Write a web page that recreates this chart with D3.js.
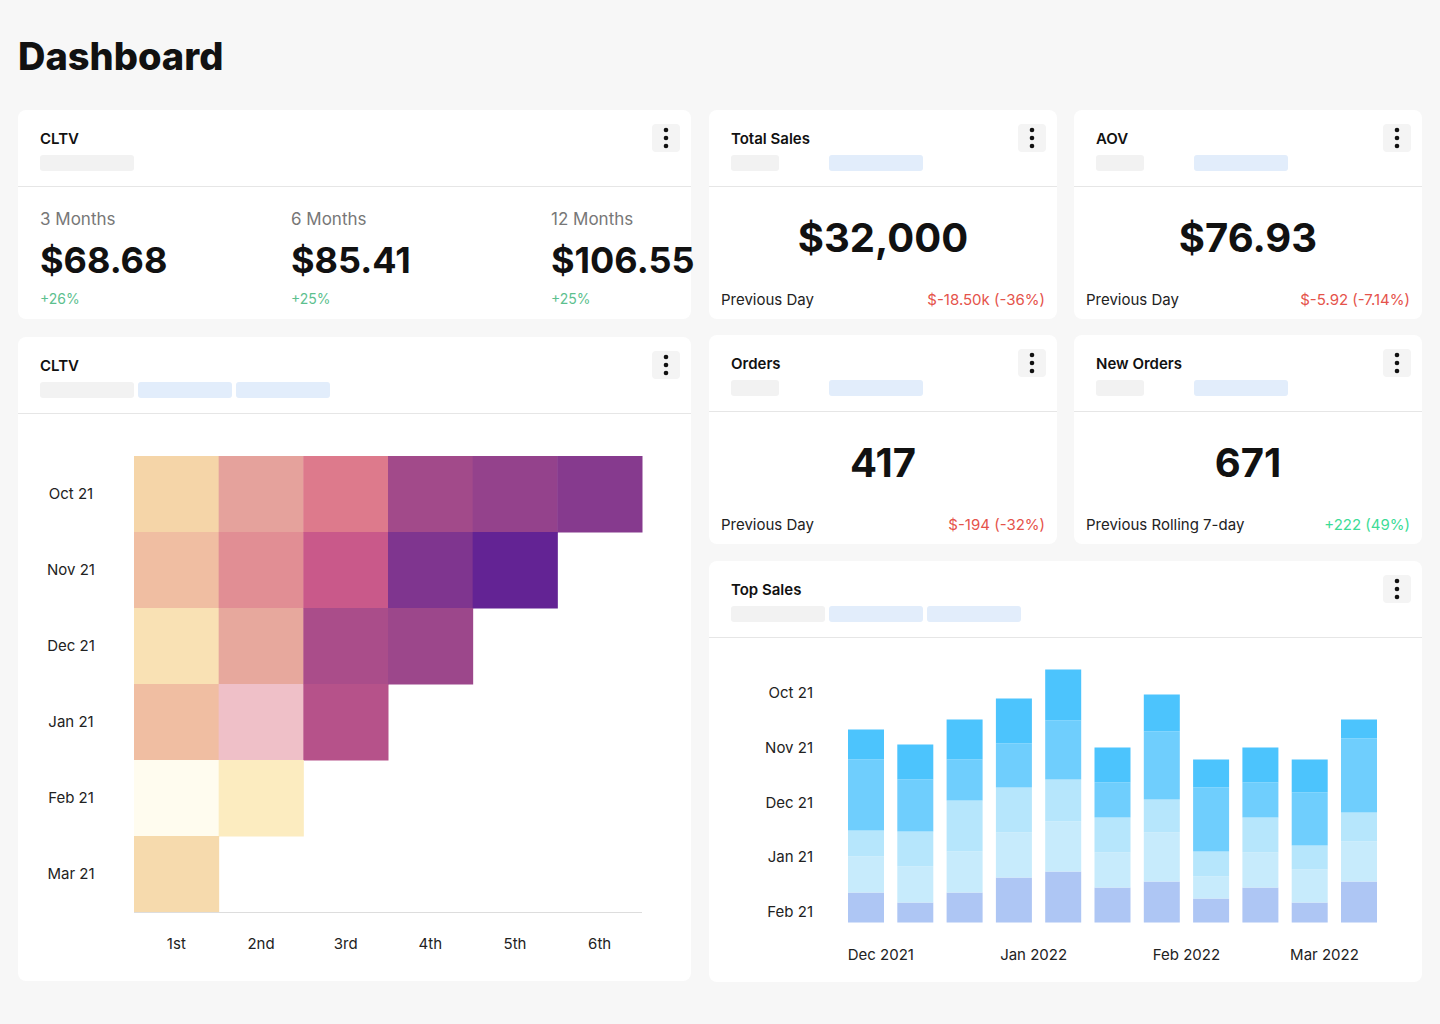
<!DOCTYPE html>
<html><head><meta charset="utf-8">
<script src="https://cdn.jsdelivr.net/npm/d3@7"></script>
<style>body{margin:0;background:#f7f7f7;font-family:Inter,"Noto Sans",sans-serif}</style>
</head><body><svg id="c" width="1440" height="1024"></svg>
<script>
// ---- data ----
const kpiLabels = ["3 Months","6 Months","12 Months"];
const kpiValues = ["$68.68","$85.41","$106.55"];
const kpiChanges = ["+26%","+25%","+25%"];
const heatRows = ["Oct 21","Nov 21","Dec 21","Jan 21","Feb 21","Mar 21"];
const heatCols = ["1st","2nd","3rd","4th","5th","6th"];
const heatValues = [
  [20,40,50,70,75,80],
  [30,45,60,82,90],
  [15,38,68,72],
  [30,35,65],
  [0,10],
  [18]
];
const barRowLabels = ["Oct 21","Nov 21","Dec 21","Jan 21","Feb 21"];
const barMonthTicks = ["2021-12-01","2022-01-01","2022-02-01","2022-03-01"];
const barDates = ["2021-11-28","2021-12-08","2021-12-18","2021-12-28","2022-01-07","2022-01-17","2022-01-27","2022-02-06","2022-02-16","2022-02-26","2022-03-08"];
const seg1 = [30,20,30,45,51,35,41,24,35,20,41];
const seg2 = [36,36,41,45,50,35,49,22,35,33,40];
const seg3 = [26,35,51,45,42,35,33,25,35,24,29];
const seg4 = [71,52,41,44,59,35,68,64,35,53,74];
const seg5 = [30,35,40,45,51,35,37,28,35,33,19];

const svg = d3.select("#c");
svg.append("text").attr("x",18).attr("y",70).attr("font-size",38).attr("font-weight",800).attr("fill","#111").text("Dashboard");

function card(x,y,w,h,title,pills){
  const g = svg.append("g").attr("transform",`translate(${x},${y})`);
  g.append("rect").attr("width",w).attr("height",h).attr("rx",8).attr("fill","#fff");
  g.append("text").attr("x",22).attr("y",34).attr("font-size",15).attr("font-weight",600).attr("fill","#111").text(title);
  pills.forEach((c,i)=>g.append("rect").attr("x",22+i*98).attr("y",45).attr("width",c==="g"&&pills.length<3&&i===0&&w<400?48:94).attr("height",16).attr("rx",3).attr("fill",c==="g"?"#f2f2f2":"#e2edfb"));
  g.append("line").attr("x1",0).attr("x2",w).attr("y1",76.5).attr("y2",76.5).attr("stroke","#e6e6e6");
  g.append("rect").attr("x",w-39).attr("y",14).attr("width",28).attr("height",28).attr("rx",4).attr("fill","#f4f4f4");
  [-8,0,8].forEach(d=>g.append("circle").attr("cx",w-25).attr("cy",28+d).attr("r",2.3).attr("fill","#111"));
  return g;
}
function smallPills(g){ }

// KPI CLTV
const k = card(18,110,673,209,"CLTV",["g"]);
const kx=[22,273,533];
kpiLabels.forEach((l,i)=>{
  k.append("text").attr("x",kx[i]).attr("y",115).attr("font-size",17).attr("fill","#777").text(l);
  k.append("text").attr("x",kx[i]).attr("y",163).attr("font-size",36).attr("font-weight",700).attr("fill","#111").text(kpiValues[i]);
  k.append("text").attr("x",kx[i]).attr("y",194).attr("font-size",14).attr("fill","#5cc08e").text(kpiChanges[i]);
});
function stat(x,y,title,val,lbl,chg,col){
  const g = card(x,y,348,209,title,["g","b"]);
  g.select("rect:nth-of-type(2)");
  g.append("text").attr("x",174).attr("y",142).attr("text-anchor","middle").attr("font-size",40).attr("font-weight",700).attr("fill","#111").text(val);
  g.append("text").attr("x",12).attr("y",195).attr("font-size",15).attr("fill","#222").text(lbl);
  g.append("text").attr("x",336).attr("y",195).attr("text-anchor","end").attr("font-size",15).attr("fill",col).text(chg);
}
stat(709,110,"Total Sales","$32,000","Previous Day","$-18.50k (-36%)","#e5534b");
stat(1074,110,"AOV","$76.93","Previous Day","$-5.92 (-7.14%)","#e5534b");
stat(709,335,"Orders","417","Previous Day","$-194 (-32%)","#e5534b");
stat(1074,335,"New Orders","671","Previous Rolling 7-day","+222 (49%)","#3ddc97");
// fix stat-card pill geometry
svg.selectAll("g").each(function(){});

// Heatmap
const h = card(18,337,673,644,"CLTV",["g","b","b"]);
const hx = d3.scaleBand().domain(heatCols).range([116,624]);
const hy = d3.scaleBand().domain(heatRows).range([119,575]);
const color = d3.scaleLinear().domain([0,10,20,30,40,50,60,70,80,90])
  .range(["#fffcef","#fcecc0","#f5d5a8","#f0bea2","#e5a29c","#dd7a8c","#c9598a","#a24a8a","#863a8e","#632394"]);
const pinkFix = d3.scaleLinear().domain([34,36]).range(["#efc0c8","#efc0c8"]);
heatValues.forEach((row,r)=>row.forEach((v,c)=>{
  h.append("rect").attr("x",hx(heatCols[c])).attr("y",hy(heatRows[r])).attr("width",hx.bandwidth()+0.5).attr("height",hy.bandwidth()+0.5)
   .attr("fill",v===35?pinkFix(v):color(v));
}));
h.append("line").attr("x1",116).attr("x2",624).attr("y1",575.5).attr("y2",575.5).attr("stroke","#ddd");
heatRows.forEach(r=>h.append("text").attr("x",53).attr("y",hy(r)+hy.bandwidth()/2+5).attr("text-anchor","middle").attr("font-size",15).attr("fill","#222").text(r));
heatCols.forEach(c=>h.append("text").attr("x",hx(c)+hx.bandwidth()/2).attr("y",612).attr("text-anchor","middle").attr("font-size",15).attr("fill","#222").text(c));

// Top Sales
const t = card(709,561,713,421,"Top Sales",["g","b","b"]);
const parse = d3.timeParse("%Y-%m-%d");
const bx = d3.scaleTime().domain([parse("2021-11-28"),parse("2022-03-08")]).range([157,650]);
const by = d3.scaleLinear().domain([0,260]).range([361.5,101.5]);
const series=[seg1,seg2,seg3,seg4,seg5];
const cols=["#aec6f4","#c7ebfc","#b6e6fc","#6fcefd","#4cc4fd"];
const rows = barDates.map((d,i)=>{const o={date:parse(d)};series.forEach((s,j)=>o["s"+j]=s[i]);return o;});
const stack = d3.stack().keys(series.map((_,j)=>"s"+j))(rows);
stack.forEach((layer,j)=>layer.forEach(p=>{
  t.append("rect").attr("x",bx(p.data.date)-18).attr("width",36).attr("y",by(p[1])).attr("height",by(p[0])-by(p[1])).attr("fill",cols[j]);
}));
const ly = d3.scalePoint().domain(barRowLabels).range([132,351]);
barRowLabels.forEach(l=>t.append("text").attr("x",104).attr("y",ly(l)+5).attr("text-anchor","end").attr("font-size",15).attr("fill","#222").text(l));
const fmt=d3.timeFormat("%b %Y");
barMonthTicks.forEach(m=>t.append("text").attr("x",bx(parse(m))).attr("y",399).attr("text-anchor","middle").attr("font-size",15).attr("fill","#222").text(fmt(parse(m))));
</script></body></html>
